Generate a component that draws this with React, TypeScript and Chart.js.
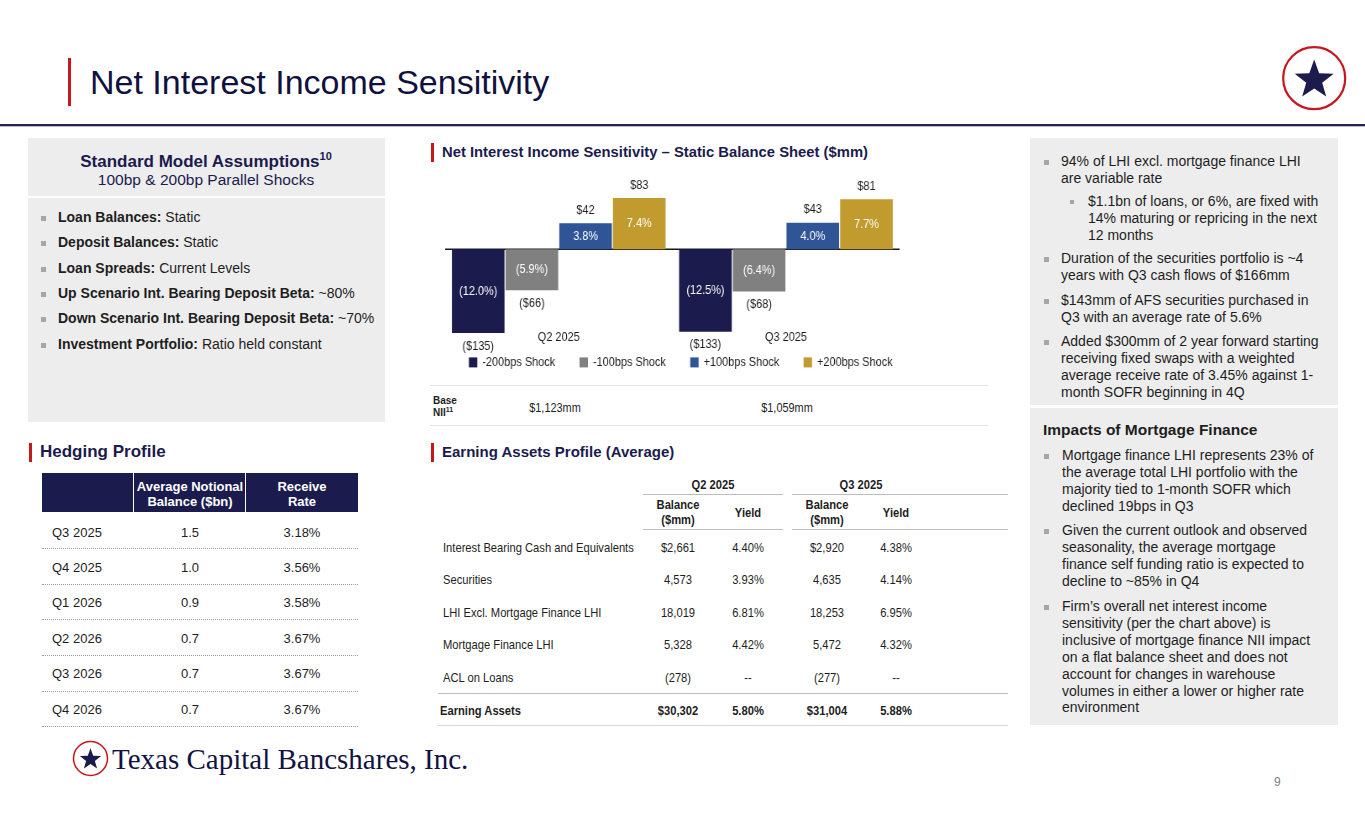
import React, { useEffect, useRef } from "react";
import { Chart, registerables } from "chart.js";
Chart.register(...registerables);

// ---------- Data ----------
const categories = ["Q2 2025", "Q3 2025"];
const seriesNames = ["-200bps Shock", "-100bps Shock", "+100bps Shock", "+200bps Shock"];
const down200 = [-135, -133];
const down100 = [-66, -68];
const up100 = [42, 43];
const up200 = [83, 81];
const down200Pct = [-12.0, -12.5];
const down100Pct = [-5.9, -6.4];
const up100Pct = [3.8, 4.0];
const up200Pct = [7.4, 7.7];
const baseNII = ["$1,123mm", "$1,059mm"];

const hedgeQuarters = ["Q3 2025", "Q4 2025", "Q1 2026", "Q2 2026", "Q3 2026", "Q4 2026"];
const hedgeNotional = ["1.5", "1.0", "0.9", "0.7", "0.7", "0.7"];
const hedgeRate = ["3.18%", "3.56%", "3.58%", "3.67%", "3.67%", "3.67%"];

const eaRows = [
  "Interest Bearing Cash and Equivalents",
  "Securities",
  "LHI Excl. Mortgage Finance LHI",
  "Mortgage Finance LHI",
  "ACL on Loans",
];
const eaQ2Bal = ["$2,661", "4,573", "18,019", "5,328", "(278)"];
const eaQ2Yield = ["4.40%", "3.93%", "6.81%", "4.42%", "--"];
const eaQ3Bal = ["$2,920", "4,635", "18,253", "5,472", "(277)"];
const eaQ3Yield = ["4.38%", "4.14%", "6.95%", "4.32%", "--"];
const eaTotal = ["Earning Assets", "$30,302", "5.80%", "$31,004", "5.88%"];

const barColors = ["#1c1b4e", "#808080", "#2f5597", "#c19b2e"];
const seriesValues = [down200, down100, up100, up200];
const seriesPct = [down200Pct, down100Pct, up100Pct, up200Pct];

// ---------- Styles ----------
const FONT = "'Liberation Sans', Arial, Helvetica, sans-serif";
const NAVY = "#1b1b4d";
const RED = "#c8161d";
const TXT = "#1e1e1e";
const PANEL = "#ededed";
const CHART_SQUEEZE = 0.84; // the chart in the slide is horizontally condensed
const TABLE_SQUEEZE = 0.86;

const fmtUsd = (v: number) => (v < 0 ? `($${Math.abs(v)})` : `$${v}`);
const fmtPct = (v: number) => (v < 0 ? `(${Math.abs(v).toFixed(1)}%)` : `${v.toFixed(1)}%`);

const labelPlugin = {
  id: "barLabels",
  beforeDatasetsDraw(chart: any) {
    const { ctx, chartArea } = chart;
    const y0 = chart.scales.y.getPixelForValue(0);
    ctx.save();
    ctx.strokeStyle = "#1a1a1a";
    ctx.lineWidth = 1.5;
    ctx.beginPath();
    ctx.moveTo(chartArea.left, y0);
    ctx.lineTo(chartArea.right, y0);
    ctx.stroke();
    ctx.restore();
  },
  afterDatasetsDraw(chart: any) {
    const { ctx } = chart;
    chart.data.datasets.forEach((ds: any, di: number) => {
      const meta = chart.getDatasetMeta(di);
      meta.data.forEach((bar: any, i: number) => {
        const v = ds.data[i] as number;
        const p = seriesPct[di][i];
        const { x, y, base } = bar.getProps(["x", "y", "base"], true);
        ctx.save();
        ctx.font = `13px ${FONT}`;
        ctx.textAlign = "center";
        ctx.textBaseline = "middle";
        ctx.fillStyle = "#ffffff";
        ctx.fillText(fmtPct(p), x, (y + base) / 2);
        ctx.fillStyle = TXT;
        ctx.fillText(fmtUsd(v), x, v >= 0 ? y - 13 : y + 13);
        ctx.restore();
      });
    });
  },
  afterDraw(chart: any) {
    // legend row
    const { ctx, chartArea } = chart;
    const box = 10;
    const gapText = 6;
    const gapItem = 29;
    ctx.save();
    ctx.font = `13px ${FONT}`;
    const items = chart.data.datasets.map((ds: any) => ({
      label: ds.label as string,
      color: ds.backgroundColor as string,
      w: box + gapText + ctx.measureText(ds.label).width,
    }));
    const total = items.reduce((s: number, it: any) => s + it.w, 0) + gapItem * (items.length - 1);
    let x = (chartArea.left + chartArea.right) / 2 + 10 - total / 2;
    const y = chartArea.bottom + 43;
    ctx.textBaseline = "middle";
    ctx.textAlign = "left";
    items.forEach((it: any) => {
      ctx.fillStyle = it.color;
      ctx.fillRect(x, y - box / 2, box, box);
      ctx.fillStyle = TXT;
      ctx.fillText(it.label, x + box + gapText, y);
      x += it.w + gapItem;
    });
    ctx.restore();
  },
};

const CANVAS_W = 577;
const CANVAS_H = 212;

function NiiChart() {
  const ref = useRef<HTMLCanvasElement | null>(null);
  useEffect(() => {
    if (!ref.current) return;
    const chart = new Chart(ref.current, {
      type: "bar",
      data: {
        labels: categories,
        datasets: seriesNames.map((name, i) => ({
          label: name,
          data: seriesValues[i],
          backgroundColor: barColors[i],
          borderWidth: 0,
          categoryPercentage: 0.945,
          barPercentage: 0.98,
          clip: false,
        })),
      },
      options: {
        animation: false,
        responsive: false,
        layout: { padding: { left: 18, right: 18, top: 10, bottom: 30 } },
        scales: {
          x: {
            grid: { display: false },
            border: { display: false },
            ticks: { color: TXT, font: { size: 13, family: FONT }, padding: 2 },
          },
          y: { display: false, min: -113, max: 120 },
        },
        plugins: {
          legend: { display: false },
          tooltip: { enabled: false },
        },
      },
      plugins: [labelPlugin],
    } as any);
    return () => chart.destroy();
  }, []);
  return (
    <div
      style={{
        position: "absolute",
        left: 430,
        top: 165,
        width: CANVAS_W,
        height: CANVAS_H,
        transform: `scaleX(${CHART_SQUEEZE})`,
        transformOrigin: "0 0",
      }}
    >
      <canvas ref={ref} width={CANVAS_W} height={CANVAS_H} style={{ width: CANVAS_W, height: CANVAS_H, display: "block" }} />
    </div>
  );
}

type TxProps = {
  x: number;
  y: number;
  children: React.ReactNode;
  size?: number;
  bold?: boolean;
  color?: string;
  align?: "left" | "center" | "right";
  w?: number;
  lh?: number;
  sq?: number;
  style?: React.CSSProperties;
};
function Tx({ x, y, children, size = 13, bold, color = TXT, align = "left", w, lh, sq, style }: TxProps) {
  const L = lh ?? Math.round(size * 1.3);
  let left = x;
  if (align === "center" && w) left = x - w / 2;
  if (align === "right" && w) left = x - w;
  return (
    <div
      style={{
        position: "absolute",
        left,
        top: y - L / 2,
        width: w,
        textAlign: align,
        fontSize: size,
        lineHeight: `${L}px`,
        fontWeight: bold ? 700 : 400,
        color,
        fontFamily: FONT,
        whiteSpace: "nowrap",
        transform: sq ? `scaleX(${sq})` : undefined,
        transformOrigin: align === "center" ? "50% 50%" : align === "right" ? "100% 50%" : "0 50%",
        ...style,
      }}
    >
      {children}
    </div>
  );
}

function Box({ x, y, w, h, bg, style }: { x: number; y: number; w: number; h: number; bg?: string; style?: React.CSSProperties }) {
  return <div style={{ position: "absolute", left: x, top: y, width: w, height: h, background: bg, ...style }} />;
}

function Bullet({ x, y, s = 5 }: { x: number; y: number; s?: number }) {
  return <Box x={x} y={y - s / 2} w={s} h={s} bg="#a6a6a6" />;
}

function SectionTitle({ x, y, text, size = 15 }: { x: number; y: number; text: string; size?: number }) {
  return (
    <>
      <Box x={x} y={y - 9} w={3} h={19} bg={RED} />
      <Tx x={x + 11} y={y} size={size} bold color={NAVY}>
        {text}
      </Tx>
    </>
  );
}

function starPoints(cx: number, cy: number, R: number, r: number) {
  const pts: string[] = [];
  for (let i = 0; i < 10; i++) {
    const a = -Math.PI / 2 + (i * Math.PI) / 5;
    const rad = i % 2 === 0 ? R : r;
    pts.push(`${(cx + rad * Math.cos(a)).toFixed(2)},${(cy + rad * Math.sin(a)).toFixed(2)}`);
  }
  return pts.join(" ");
}

function Logo({ cx, cy, r, sw }: { cx: number; cy: number; r: number; sw: number }) {
  return (
    <svg
      style={{ position: "absolute", left: cx - r - sw, top: cy - r - sw }}
      width={2 * (r + sw)}
      height={2 * (r + sw)}
    >
      <circle cx={r + sw} cy={r + sw} r={r} fill="#fff" stroke={RED} strokeWidth={sw} />
      <polygon points={starPoints(r + sw, r + sw + r * 0.06, r * 0.66, r * 0.27)} fill={NAVY} />
    </svg>
  );
}

const leftBullets: [string, string][] = [
  ["Loan Balances:", " Static"],
  ["Deposit Balances:", " Static"],
  ["Loan Spreads:", " Current Levels"],
  ["Up Scenario Int. Bearing Deposit Beta:", " ~80%"],
  ["Down Scenario Int. Bearing Deposit Beta:", " ~70%"],
  ["Investment Portfolio:", " Ratio held constant"],
];
const leftBulletY = [217, 242, 268, 293, 318, 344];

export default function App() {
  useEffect(() => {
    document.body.style.margin = "0";
  }, []);

  const hedgeRowY = [532, 567, 602, 638, 673, 709];
  const hedgeLineY = [548, 584, 619, 655, 691, 726];
  const eaRowY = [547, 579, 612, 644, 677];
  const S = TABLE_SQUEEZE;

  const rightTop: { y: number; sub?: boolean; lines: string[] }[] = [
    { y: 161, lines: ["94% of LHI excl. mortgage finance LHI", "are variable rate"] },
    { y: 201, sub: true, lines: ["$1.1bn of loans, or 6%, are fixed with", "14% maturing or repricing in the next", "12 months"] },
    { y: 258, lines: ["Duration of the securities portfolio is ~4", "years with Q3 cash flows of $166mm"] },
    { y: 300, lines: ["$143mm of AFS securities purchased in", "Q3 with an average rate of 5.6%"] },
    {
      y: 341,
      lines: [
        "Added $300mm of 2 year forward starting",
        "receiving fixed swaps with a weighted",
        "average receive rate of 3.45% against 1-",
        "month SOFR beginning in 4Q",
      ],
    },
  ];
  const rightBottom: { y: number; lines: string[] }[] = [
    {
      y: 455,
      lines: [
        "Mortgage finance LHI represents 23% of",
        "the average total LHI portfolio with the",
        "majority tied to 1-month SOFR which",
        "declined 19bps in Q3",
      ],
    },
    {
      y: 530,
      lines: [
        "Given the current outlook and observed",
        "seasonality, the average mortgage",
        "finance self funding ratio is expected to",
        "decline to ~85% in Q4",
      ],
    },
    {
      y: 606,
      lines: [
        "Firm\u2019s overall net interest income",
        "sensitivity (per the chart above) is",
        "inclusive of mortgage finance NII impact",
        "on a flat balance sheet and does not",
        "account for changes in warehouse",
        "volumes in either a lower or higher rate",
        "environment",
      ],
    },
  ];
  const LH = 16.9;

  return (
    <div style={{ position: "absolute", left: 0, top: 0, width: 1365, height: 829, background: "#fff", overflow: "hidden", fontFamily: FONT }}>
      {/* Header */}
      <Box x={68} y={58} w={3} h={48} bg={RED} />
      <Tx x={90} y={82} size={34} color="#111140" lh={40}>
        Net Interest Income Sensitivity
      </Tx>
      <Box x={0} y={124} w={1365} h={2} bg="#25254f" />
      <Box x={0} y={126} w={1365} h={1} bg="#b9b9c8" />
      <Logo cx={1314} cy={78} r={31} sw={2.2} />

      {/* Left panel: assumptions */}
      <Box x={28} y={138} w={357} h={284} bg={PANEL} />
      <Box x={28} y={196} w={357} h={2} bg="#fff" />
      <Tx x={206} y={162} w={357} align="center" size={17} bold color={NAVY}>
        Standard Model Assumptions<sup style={{ fontSize: 11, lineHeight: 0, verticalAlign: "7px" }}>10</sup>
      </Tx>
      <Tx x={206} y={180} w={357} align="center" size={15.5} color={NAVY}>
        100bp &amp; 200bp Parallel Shocks
      </Tx>
      {leftBullets.map(([b, r], i) => (
        <React.Fragment key={i}>
          <Bullet x={41} y={leftBulletY[i] + 1} />
          <Tx x={58} y={leftBulletY[i]} size={14}>
            <b>{b}</b>
            {r}
          </Tx>
        </React.Fragment>
      ))}

      {/* Hedging profile */}
      <SectionTitle x={29} y={452} size={17} text="Hedging Profile" />
      <Box x={42} y={473} w={316} h={39} bg={NAVY} />
      <Box x={133} y={473} w={1} h={39} bg="#fff" />
      <Box x={245} y={473} w={1} h={39} bg="#fff" />
      <Tx x={190} y={486} w={112} align="center" size={13} bold color="#fff">Average Notional</Tx>
      <Tx x={190} y={501} w={112} align="center" size={13} bold color="#fff">Balance ($bn)</Tx>
      <Tx x={302} y={486} w={112} align="center" size={13} bold color="#fff">Receive</Tx>
      <Tx x={302} y={501} w={112} align="center" size={13} bold color="#fff">Rate</Tx>
      {hedgeQuarters.map((q, i) => (
        <React.Fragment key={q}>
          <Tx x={52} y={hedgeRowY[i]} size={13}>{q}</Tx>
          <Tx x={190} y={hedgeRowY[i]} w={100} align="center" size={13}>{hedgeNotional[i]}</Tx>
          <Tx x={302} y={hedgeRowY[i]} w={100} align="center" size={13}>{hedgeRate[i]}</Tx>
          <Box x={42} y={hedgeLineY[i]} w={316} h={0} style={{ borderTop: "1px dotted #9a9a9a" }} />
        </React.Fragment>
      ))}

      {/* Chart section */}
      <SectionTitle x={431} y={152} size={14.8} text={"Net Interest Income Sensitivity \u2013 Static Balance Sheet ($mm)"} />
      <NiiChart />
      <Box x={430} y={385} w={558} h={1} bg="#e3e3e3" />
      <Tx x={433} y={401} size={10} bold lh={12}>Base</Tx>
      <Tx x={433} y={413} size={10} bold lh={12}>
        NII<sup style={{ fontSize: 7, lineHeight: 0, verticalAlign: "4px" }}>11</sup>
      </Tx>
      <Tx x={555} y={407} w={120} align="center" size={13} sq={CHART_SQUEEZE}>{baseNII[0]}</Tx>
      <Tx x={787} y={407} w={120} align="center" size={13} sq={CHART_SQUEEZE}>{baseNII[1]}</Tx>
      <Box x={430} y={425} w={558} h={1} bg="#e3e3e3" />

      {/* Earning assets profile */}
      <SectionTitle x={431} y={452} text="Earning Assets Profile (Average)" />
      <Tx x={713} y={484} w={120} align="center" size={13} bold sq={S}>Q2 2025</Tx>
      <Tx x={861} y={484} w={120} align="center" size={13} bold sq={S}>Q3 2025</Tx>
      <Box x={643} y={494} w={140} h={1} bg="#bdbdbd" />
      <Box x={792} y={494} w={216} h={1} bg="#bdbdbd" />
      <Tx x={678} y={504} w={90} align="center" size={13} bold sq={S}>Balance</Tx>
      <Tx x={678} y={519} w={90} align="center" size={13} bold sq={S}>($mm)</Tx>
      <Tx x={748} y={512} w={70} align="center" size={13} bold sq={S}>Yield</Tx>
      <Tx x={827} y={504} w={90} align="center" size={13} bold sq={S}>Balance</Tx>
      <Tx x={827} y={519} w={90} align="center" size={13} bold sq={S}>($mm)</Tx>
      <Tx x={896} y={512} w={70} align="center" size={13} bold sq={S}>Yield</Tx>
      <Box x={643} y={529} w={140} h={1} bg="#bdbdbd" />
      <Box x={792} y={529} w={216} h={1} bg="#bdbdbd" />
      {eaRows.map((r, i) => (
        <React.Fragment key={r}>
          <Tx x={443} y={eaRowY[i]} size={13} sq={S}>{r}</Tx>
          <Tx x={678} y={eaRowY[i]} w={90} align="center" size={13} sq={S}>{eaQ2Bal[i]}</Tx>
          <Tx x={748} y={eaRowY[i]} w={70} align="center" size={13} sq={S}>{eaQ2Yield[i]}</Tx>
          <Tx x={827} y={eaRowY[i]} w={90} align="center" size={13} sq={S}>{eaQ3Bal[i]}</Tx>
          <Tx x={896} y={eaRowY[i]} w={70} align="center" size={13} sq={S}>{eaQ3Yield[i]}</Tx>
        </React.Fragment>
      ))}
      <Box x={438} y={693} w={570} h={1} bg="#bdbdbd" />
      <Tx x={440} y={710} size={13} bold sq={S}>{eaTotal[0]}</Tx>
      <Tx x={678} y={710} w={90} align="center" size={13} bold sq={S}>{eaTotal[1]}</Tx>
      <Tx x={748} y={710} w={70} align="center" size={13} bold sq={S}>{eaTotal[2]}</Tx>
      <Tx x={827} y={710} w={90} align="center" size={13} bold sq={S}>{eaTotal[3]}</Tx>
      <Tx x={896} y={710} w={70} align="center" size={13} bold sq={S}>{eaTotal[4]}</Tx>
      <Box x={438} y={725} w={570} h={1} bg="#d6d6d6" />

      {/* Right panels */}
      <Box x={1030} y={138} w={308} h={267} bg={PANEL} />
      <Box x={1030} y={408} w={308} h={317} bg={PANEL} />
      {rightTop.map((p, i) => (
        <React.Fragment key={i}>
          <Bullet x={p.sub ? 1070 : 1044} y={p.y + 1} s={p.sub ? 4 : 5} />
          {p.lines.map((l, j) => (
            <Tx key={j} x={p.sub ? 1088 : 1061} y={p.y + j * LH} size={14}>{l}</Tx>
          ))}
        </React.Fragment>
      ))}
      <Tx x={1043} y={430} size={15.5} bold>Impacts of Mortgage Finance</Tx>
      {rightBottom.map((p, i) => (
        <React.Fragment key={i}>
          <Bullet x={1044} y={p.y + 1} />
          {p.lines.map((l, j) => (
            <Tx key={j} x={1062} y={p.y + j * LH} size={14}>{l}</Tx>
          ))}
        </React.Fragment>
      ))}

      {/* Footer */}
      <Logo cx={90} cy={758} r={17} sw={1.5} />
      <Tx x={112} y={759} size={29} color="#121242" lh={34} style={{ fontFamily: "'Liberation Serif', 'Times New Roman', serif" }}>
        Texas Capital Bancshares, Inc.
      </Tx>
      <Tx x={1274} y={782} size={12} color="#7f7f7f">9</Tx>
    </div>
  );
}
